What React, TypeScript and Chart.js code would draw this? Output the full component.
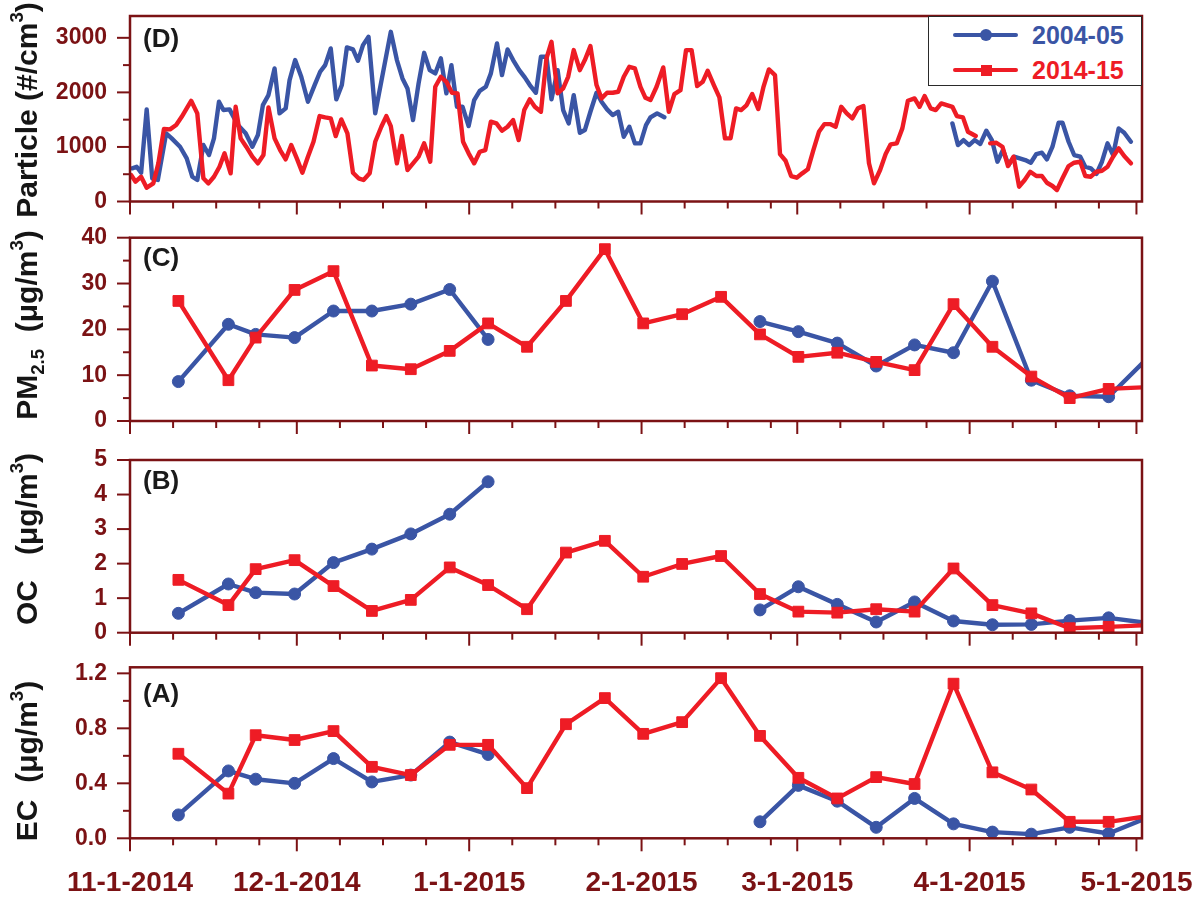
import { useEffect, useRef, type ReactNode } from 'react'
import { Chart, registerables, type Plugin } from 'chart.js'

Chart.register(...registerables)

const AXIS = '#7b1214'
const BLUE = '#3a55a5'
const RED = '#ee1c25'
const FONT = '"Liberation Sans", Arial, Helvetica, sans-serif'

// x axis is in days after 11-1-2014
const monthDays = [0, 30, 61, 92, 120, 151, 181]
const monthLabels = ['11-1-2014', '12-1-2014', '1-1-2015', '2-1-2015', '3-1-2015', '4-1-2015', '5-1-2015']
const minorDays = monthDays.slice(0, -1).flatMap((m) => [m + 7.75, m + 15.5, m + 23.25])

// (D) particle number, daily
const particleDays0405 = [
  0.4, 1.2, 2.0, 3.0, 4.0, 5.0, 6.5, 7.5, 9.0, 10.2,
  11.2, 12.1, 13.2, 14.2, 15.1, 16.0, 16.8, 17.9, 19.4, 20.8,
  22.0, 23.0, 23.9, 24.9, 26.0, 26.9, 28.0, 28.7, 29.7, 30.8,
  32.0, 33.2, 34.2, 35.1, 36.1, 37.1, 38.1, 39.0, 40.1, 41.0,
  41.9, 42.9, 44.1, 46.9, 48.0, 49.0, 49.9, 50.9, 51.9, 52.9,
  53.9, 54.9, 55.9, 56.9, 57.8, 58.8, 59.8, 60.9, 61.9, 62.9,
  64.0, 64.9, 66.0, 66.9, 67.9, 68.9, 70.0, 71.0, 71.9, 73.0,
  73.9, 74.9, 75.8, 76.9, 77.9, 78.9, 79.8, 80.9, 81.8, 82.8,
  83.9, 84.8, 85.8, 86.8, 87.8, 88.8, 89.8, 90.8, 91.8, 92.8,
  93.6, 94.8, 96.1,
  120,
  147.9, 148.9, 149.9, 150.9, 151.9, 152.9, 154.0, 155.0, 156.0, 157.0,
  158.0, 159.0, 160.0, 161.0, 162.0, 163.0, 164.0, 164.9, 165.9, 167.0,
  167.7, 168.8, 169.8, 170.9, 171.8, 172.8, 173.8, 174.8, 175.8, 176.8,
  177.8, 178.8, 180.0,
]
const particle0405 = [
  608, 637, 527, 1689, 425, 394, 1249, 1157, 1004, 791,
  454, 394, 1035, 852, 1157, 1828, 1676, 1689, 1401, 1249,
  1004, 1218, 1767, 1950, 2440, 1615, 1707, 2225, 2592, 2286,
  1828, 2134, 2378, 2500, 2806, 1872, 2134, 2824, 2788, 2579,
  2866, 3018, 1615, 3110, 2592, 2256, 2073, 1493, 2165, 2725,
  2408, 2348, 2623, 1982, 2500, 1736, 1736, 1383, 1859, 2029,
  2103, 2348, 2897, 2317, 2788, 2592, 2408, 2275, 2134, 1993,
  2653, 2653, 1872, 2408, 1676, 1432, 1950, 1260, 1310, 1645,
  1993, 1828, 1689, 1584, 1645, 1187, 1370, 1066, 1066, 1400,
  1540, 1615, 1545,
  null,
  1432, 1035, 1126, 1035, 1126, 1053, 1297, 1126, 729, 943,
  668, 821, 791, 760, 711, 870, 894, 773, 1004, 1443,
  1443, 1095, 852, 821, 637, 608, 504, 729, 1066, 852,
  1340, 1260, 1095,
]
const particleDays1415 = [
  0.2, 1.0, 2.0, 3.0, 4.2, 5.1, 6.1, 7.2, 8.3, 9.3,
  10.2, 11.0, 12.1, 13.2, 14.1, 15.1, 16.1, 17.0, 18.1, 19.0,
  19.9, 20.9, 22.0, 23.0, 24.0, 24.9, 26.0, 27.0, 28.0, 29.0,
  30.0, 31.0, 32.0, 33.0, 34.1, 35.1, 36.1, 37.0, 38.0, 39.1,
  40.1, 41.1, 42.0, 43.1, 44.1, 45.2, 46.1, 46.9, 48.0, 48.9,
  49.9, 50.9, 51.9, 52.9, 54.0, 54.9, 55.9, 56.9, 57.9, 58.9,
  59.9, 60.9, 61.9, 62.9, 63.9, 64.9, 65.9, 66.9, 67.9, 68.9,
  69.9, 70.9, 71.9, 72.8, 73.9, 74.9, 75.8, 76.9, 77.9, 78.8,
  79.8, 80.9, 81.8, 82.8, 83.9, 84.8, 85.8, 86.8, 87.8, 88.8,
  89.8, 90.8, 91.8, 92.7, 93.6, 94.7, 95.9, 96.9, 97.9, 99.0,
  100.0, 101.0, 102.0, 103.0, 103.9, 105.0, 106.0, 107.0, 108.0, 109.0,
  109.9, 110.9, 111.9, 113.0, 113.9, 114.9, 116.0, 116.9, 117.9, 118.9,
  119.9, 120.9, 121.9, 122.9, 123.9, 124.9, 125.9, 126.9, 127.9, 128.9,
  129.9, 130.9, 131.9, 132.9, 133.8, 134.9, 135.9, 136.8, 137.9, 138.9,
  139.9, 141.1, 142.0, 142.9, 144.0, 144.9, 145.9, 146.9, 147.9, 148.7,
  149.8, 150.7, 152.1,
  153.4,
  154.7, 155.8, 156.9, 157.9, 158.9, 159.9, 160.9, 161.9, 163.0, 164.0,
  164.9, 165.9, 166.7, 167.7, 168.8, 169.8, 170.9, 171.8, 172.8, 173.8,
  174.8, 175.8, 176.8, 177.8, 178.8, 180.0,
]
const particle1415 = [
  485, 363, 454, 253, 333, 700, 1328, 1322, 1401, 1553,
  1707, 1846, 1615, 425, 333, 454, 637, 883, 516, 1736,
  1157, 1004, 821, 700, 852, 1725, 1157, 943, 773, 1035,
  791, 527, 821, 1095, 1566, 1542, 1524, 1200, 1505, 1249,
  527, 425, 394, 516, 1095, 1370, 1566, 1380, 700, 1200,
  577, 700, 821, 1066, 729, 2103, 2286, 2194, 1993, 1982,
  1095, 883, 700, 912, 943, 1462, 1432, 1297, 1370, 1493,
  1126, 1676, 1872, 1736, 1645, 2623, 2927, 1982, 2073, 2286,
  2775, 2408, 2592, 2848, 2134, 1890, 1993, 1993, 2011, 2286,
  2469, 2440, 2100, 1900, 1859, 2103, 2458, 1645, 1969, 2042,
  2775, 2775, 2115, 2194, 2396, 2134, 1908, 1157, 1157, 1707,
  1676, 1767, 1969, 1694, 2091, 2421, 2317, 870, 747, 467,
  436, 516, 590, 943, 1278, 1419, 1419, 1370, 1736, 1615,
  1524, 1707, 1749, 700, 333, 577, 870, 1048, 1066, 1340,
  1846, 1890, 1736, 1932, 1707, 1676, 1798, 1767, 1736, 1566,
  1542, 1278, 1200,
  null,
  1066, 1077, 1004, 650, 821, 271, 394, 546, 467, 467,
  344, 284, 211, 425, 650, 711, 729, 467, 454, 546,
  564, 637, 821, 974, 833, 700,
]

// (A)-(C) weekly filter samples, days after 11-1-2014
const sampleDays = [
  8.7, 17.7, 22.6, 29.6, 36.6, 43.5, 50.5, 57.5, 64.4, 71.4,
  78.4, 85.4, 92.3, 99.3, 106.3, 113.3, 120.2, 127.2, 134.2, 141.1,
  148.1, 155.1, 162.1, 169.0, 176.0, 183.0,
]
const pm0405 = [
  8.6, 21.1, 18.9, 18.2, 24.0, 24.0, 25.5, 28.7, 17.8, null,
  null, null, null, null, null, 21.7, 19.5, 17.0, 12.0, 16.6,
  14.9, 30.5, 8.9, 5.5, 5.3, 13.7,
]
const pm1415 = [
  26.2, 8.9, 18.2, 28.6, 32.7, 12.1, 11.3, 15.3, 21.3, 16.2,
  26.2, 37.5, 21.3, 23.3, 27.1, 18.9, 14.0, 14.9, 12.9, 11.1,
  25.5, 16.2, 9.7, 5.0, 7.0, 7.4,
]
const oc0405 = [
  0.56, 1.41, 1.16, 1.12, 2.03, 2.42, 2.86, 3.43, 4.37, null,
  null, null, null, null, null, 0.66, 1.33, 0.82, 0.31, 0.89,
  0.34, 0.23, 0.24, 0.35, 0.43, 0.28,
]
const oc1415 = [
  1.53, 0.80, 1.84, 2.10, 1.35, 0.63, 0.95, 1.89, 1.38, 0.68,
  2.32, 2.66, 1.62, 1.99, 2.22, 1.12, 0.61, 0.58, 0.68, 0.61,
  1.86, 0.80, 0.56, 0.13, 0.17, 0.22,
]
const ec0405 = [
  0.17, 0.49, 0.43, 0.40, 0.58, 0.41, 0.46, 0.70, 0.61, null,
  null, null, null, null, null, 0.12, 0.385, 0.27, 0.08, 0.29,
  0.105, 0.045, 0.03, 0.08, 0.035, 0.15,
]
const ec1415 = [
  0.615, 0.325, 0.75, 0.715, 0.78, 0.52, 0.46, 0.68, 0.68, 0.365,
  0.83, 1.02, 0.76, 0.845, 1.165, 0.745, 0.44, 0.29, 0.445, 0.395,
  1.125, 0.48, 0.355, 0.12, 0.12, 0.16,
]

interface Line {
  days: number[]
  values: (number | null)[]
  color: string
  marker?: 'circle' | 'rect'
}

interface PanelProps {
  top: number
  height: number
  plotTop: number
  plotBottom: number
  yMax: number
  yMajor: number[]
  yMinor: number[]
  decimals: number
  lines: Line[]
  showDates?: boolean
}

function Panel(props: PanelProps) {
  const canvasRef = useRef<HTMLCanvasElement>(null)

  useEffect(() => {
    if (!canvasRef.current) return
    const { top, height, plotTop, plotBottom, yMax, yMajor, yMinor, decimals, lines, showDates } = props

    // box around the plot and outward major / minor tick marks
    const frame: Plugin<'line'> = {
      id: 'frame',
      afterDraw(chart) {
        const { ctx, chartArea: a } = chart
        const xs = chart.scales.x
        const ys = chart.scales.y
        const mark = (x1: number, y1: number, x2: number, y2: number) => {
          ctx.beginPath()
          ctx.moveTo(x1, y1)
          ctx.lineTo(x2, y2)
          ctx.stroke()
        }
        ctx.save()
        ctx.strokeStyle = AXIS
        ctx.lineCap = 'butt'
        ctx.lineWidth = 2
        monthDays.forEach((d) => {
          const px = xs.getPixelForValue(d)
          mark(px, a.bottom, px, a.bottom + 13)
        })
        minorDays.forEach((d) => {
          const px = xs.getPixelForValue(d)
          mark(px, a.bottom, px, a.bottom + 7)
        })
        yMajor.forEach((v) => {
          const py = ys.getPixelForValue(v)
          mark(a.left, py, a.left - 13, py)
        })
        yMinor.forEach((v) => {
          const py = ys.getPixelForValue(v)
          mark(a.left, py, a.left - 7, py)
        })
        ctx.lineWidth = 2.5
        ctx.strokeRect(a.left, a.top, a.right - a.left, a.bottom - a.top)
        ctx.restore()
      },
    }

    const chart = new Chart(canvasRef.current, {
      type: 'line',
      data: {
        datasets: lines.map((l) => ({
          data: l.days.map((d, i) => ({ x: d, y: l.values[i] })),
          borderColor: l.color,
          backgroundColor: l.color,
          borderWidth: 4.4,
          borderJoinStyle: 'round' as const,
          borderCapStyle: 'round' as const,
          tension: 0,
          pointStyle: l.marker ?? 'circle',
          pointRadius: l.marker === 'rect' ? 7.6 : l.marker === 'circle' ? 6 : 0,
          pointBorderWidth: 1,
          pointBorderColor: l.color,
          pointBackgroundColor: l.color,
          clip: 0,
        })),
      },
      options: {
        responsive: true,
        maintainAspectRatio: false,
        animation: false,
        events: [],
        layout: { padding: { top: plotTop - top, right: 58, left: 0, bottom: 0 } },
        plugins: { legend: { display: false }, tooltip: { enabled: false } },
        scales: {
          x: {
            type: 'linear',
            min: 0,
            max: 182,
            afterFit: (s) => {
              s.height = top + height - plotBottom
            },
            afterBuildTicks: (s) => {
              s.ticks = monthDays.map((v) => ({ value: v }))
            },
            border: { display: false },
            grid: {
              drawOnChartArea: false,
              drawTicks: true,
              tickLength: 28,
              color: 'transparent',
              tickColor: 'transparent',
            },
            ticks: {
              display: !!showDates,
              autoSkip: false,
              maxRotation: 0,
              padding: 0,
              color: AXIS,
              font: { family: FONT, size: 28, weight: 'bold' },
              callback: (v) => monthLabels[monthDays.indexOf(Number(v))] ?? '',
            },
          },
          y: {
            min: 0,
            max: yMax,
            afterFit: (s) => {
              s.width = 130
            },
            afterBuildTicks: (s) => {
              s.ticks = yMajor.map((v) => ({ value: v }))
            },
            border: { display: false },
            grid: {
              drawOnChartArea: false,
              drawTicks: true,
              tickLength: 23,
              color: 'transparent',
              tickColor: 'transparent',
            },
            ticks: {
              padding: 0,
              color: AXIS,
              font: { family: FONT, size: 23, weight: 'bold' },
              callback: (v) => Number(v).toFixed(decimals),
            },
          },
        },
      },
      plugins: [frame],
    })

    return () => chart.destroy()
  }, [])

  return (
    <div style={{ position: 'absolute', left: 0, top: props.top, width: 1200, height: props.height }}>
      <canvas ref={canvasRef} />
    </div>
  )
}

function AxisTitle({ cx, cy, children }: { cx: number; cy: number; children: ReactNode }) {
  return (
    <div
      style={{
        position: 'absolute',
        left: cx,
        top: cy,
        transform: 'translate(-50%, -50%) rotate(-90deg)',
        whiteSpace: 'nowrap',
        fontFamily: FONT,
        fontSize: 30,
        fontWeight: 'bold',
        lineHeight: '30px',
        color: '#151515',
      }}
    >
      {children}
    </div>
  )
}

function Sup({ children }: { children: ReactNode }) {
  return <span style={{ fontSize: '0.62em', position: 'relative', top: '-0.75em' }}>{children}</span>
}

function Sub({ children }: { children: ReactNode }) {
  return <span style={{ fontSize: '0.62em', position: 'relative', top: '0.35em' }}>{children}</span>
}

function PanelTag({ left, top, text }: { left: number; top: number; text: string }) {
  return (
    <div
      style={{
        position: 'absolute',
        left,
        top,
        fontFamily: FONT,
        fontSize: 26,
        fontWeight: 'bold',
        lineHeight: '26px',
        color: '#1a1a1a',
      }}
    >
      {text}
    </div>
  )
}

function LegendRow({ y, color, label, square }: { y: number; color: string; label: string; square?: boolean }) {
  const m = square ? 11 : 12
  return (
    <>
      <div style={{ position: 'absolute', left: 953, top: y - 2.25, width: 65, height: 4.5, borderRadius: 2.25, background: color }} />
      <div
        style={{
          position: 'absolute',
          left: 986 - m / 2,
          top: y - m / 2,
          width: m,
          height: m,
          borderRadius: square ? 0 : '50%',
          background: color,
        }}
      />
      <div
        style={{
          position: 'absolute',
          left: 1032,
          top: y - 12.5,
          fontFamily: FONT,
          fontSize: 25,
          fontWeight: 'bold',
          lineHeight: '25px',
          color,
        }}
      >
        {label}
      </div>
    </>
  )
}

export default function App() {
  return (
    <div style={{ position: 'absolute', left: 0, top: 0, width: 1200, height: 903, background: '#fff', overflow: 'hidden' }}>
      <Panel
        top={0}
        height={230}
        plotTop={16}
        plotBottom={201.5}
        yMax={3400}
        yMajor={[0, 1000, 2000, 3000]}
        yMinor={[500, 1500, 2500]}
        decimals={0}
        lines={[
          { days: particleDays1415, values: particle1415, color: RED },
          { days: particleDays0405, values: particle0405, color: BLUE },
        ]}
      />
      <Panel
        top={221}
        height={230}
        plotTop={237.7}
        plotBottom={421}
        yMax={40}
        yMajor={[0, 10, 20, 30, 40]}
        yMinor={[5, 15, 25, 35]}
        decimals={0}
        lines={[
          { days: sampleDays, values: pm1415, color: RED, marker: 'rect' },
          { days: sampleDays, values: pm0405, color: BLUE, marker: 'circle' },
        ]}
      />
      <Panel
        top={444}
        height={220}
        plotTop={460}
        plotBottom={632.7}
        yMax={5}
        yMajor={[0, 1, 2, 3, 4, 5]}
        yMinor={[]}
        decimals={0}
        lines={[
          { days: sampleDays, values: oc1415, color: RED, marker: 'rect' },
          { days: sampleDays, values: oc0405, color: BLUE, marker: 'circle' },
        ]}
      />
      <Panel
        top={651}
        height={252}
        plotTop={667.3}
        plotBottom={838.3}
        yMax={1.244}
        yMajor={[0, 0.4, 0.8, 1.2]}
        yMinor={[0.2, 0.6, 1.0]}
        decimals={1}
        showDates
        lines={[
          { days: sampleDays, values: ec1415, color: RED, marker: 'rect' },
          { days: sampleDays, values: ec0405, color: BLUE, marker: 'circle' },
        ]}
      />

      <AxisTitle cx={29} cy={110}>
        Particle (#/cm<Sup>3</Sup>)
      </AxisTitle>
      <AxisTitle cx={29} cy={325}>
        PM<Sub>2.5</Sub>{'\u00a0\u00a0'}(μg/m<Sup>3</Sup>)
      </AxisTitle>
      <AxisTitle cx={29} cy={539}>
        OC{'\u00a0\u00a0\u00a0'}(μg/m<Sup>3</Sup>)
      </AxisTitle>
      <AxisTitle cx={29} cy={761}>
        EC{'\u00a0\u00a0'}(μg/m<Sup>3</Sup>)
      </AxisTitle>

      <PanelTag left={143} top={25} text="(D)" />
      <PanelTag left={143} top={244} text="(C)" />
      <PanelTag left={143} top={467} text="(B)" />
      <PanelTag left={143} top={680} text="(A)" />

      <div
        style={{
          position: 'absolute',
          left: 928,
          top: 15.5,
          width: 214,
          height: 70.5,
          boxSizing: 'border-box',
          border: '1.5px solid #2a2a2a',
          background: '#fff',
        }}
      />
      <LegendRow y={35} color={BLUE} label="2004-05" />
      <LegendRow y={70} color={RED} label="2014-15" square />
    </div>
  )
}
